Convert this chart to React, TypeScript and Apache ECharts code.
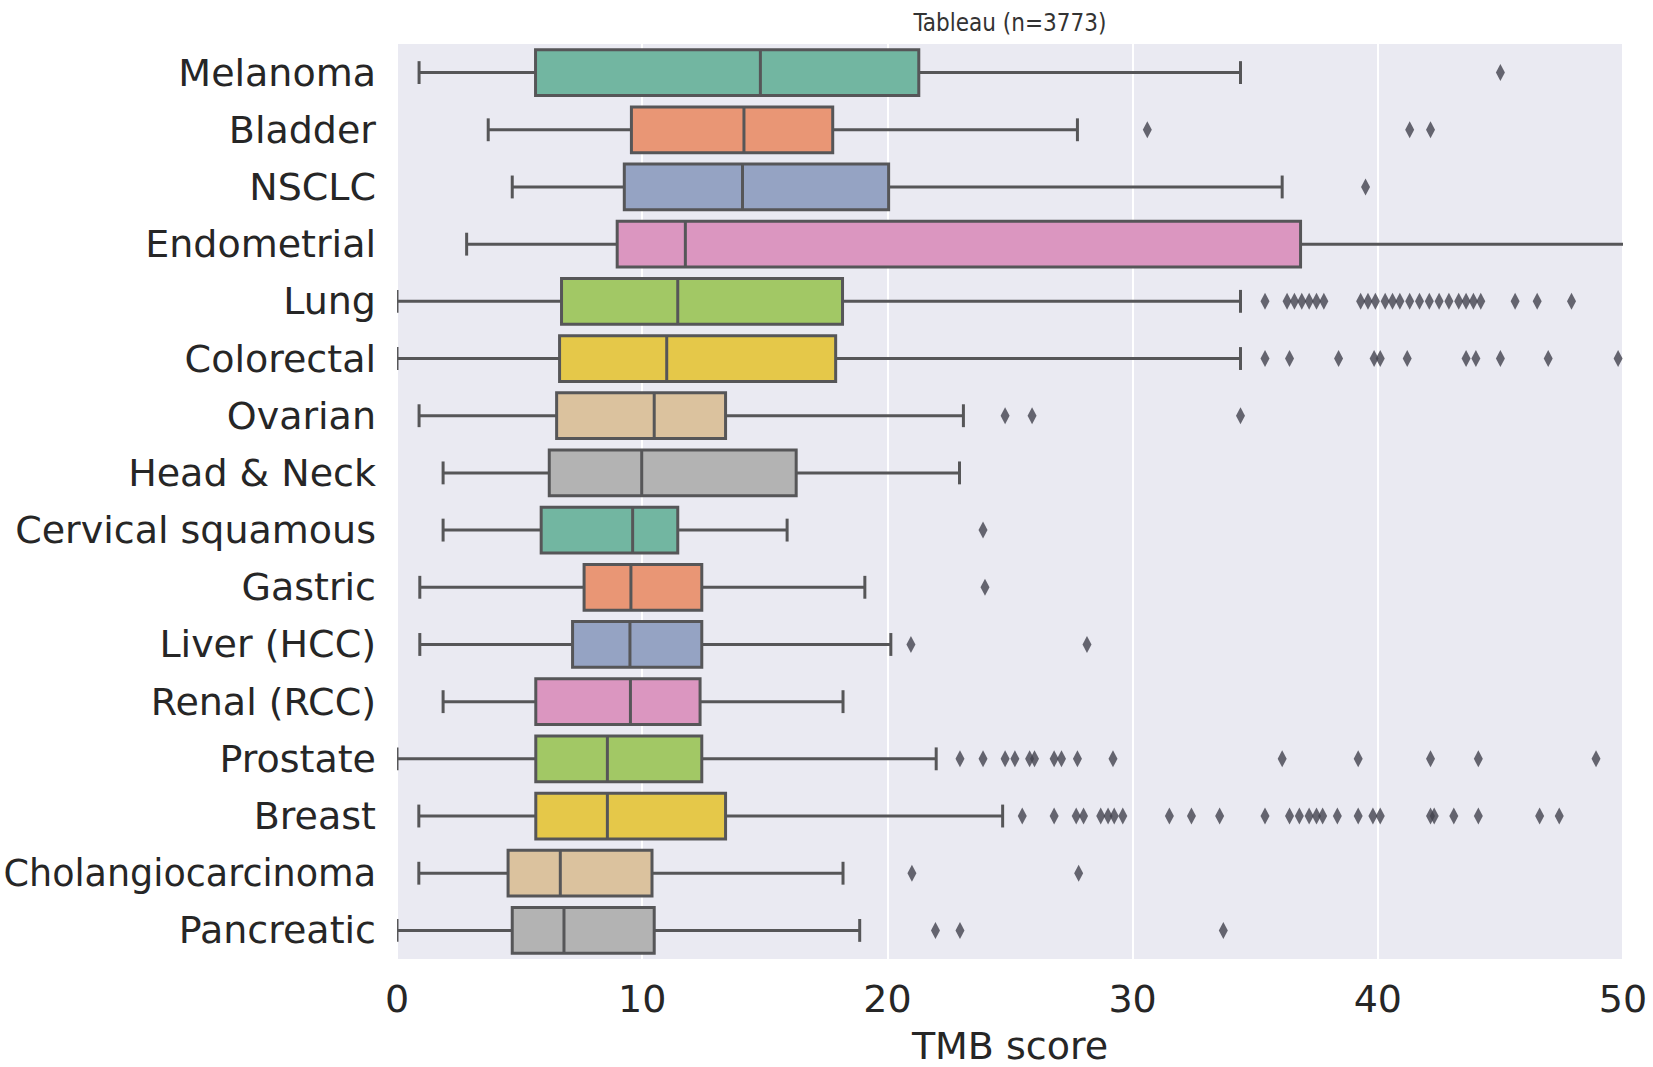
import React, { useEffect, useRef } from "react";
import * as echarts from "echarts";

const categories = [
  "Melanoma", "Bladder", "NSCLC", "Endometrial", "Lung", "Colorectal", "Ovarian", "Head & Neck",
  "Cervical squamous", "Gastric", "Liver (HCC)", "Renal (RCC)", "Prostate", "Breast",
  "Cholangiocarcinoma", "Pancreatic",
];

const whiskerLow = [0.9, 3.72, 4.7, 2.84, 0, 0, 0.9, 1.88, 1.88, 0.93, 0.93, 1.88, 0, 0.89, 0.89, 0];
const quartile1 = [5.65, 9.56, 9.27, 8.98, 6.71, 6.63, 6.51, 6.21, 5.88, 7.63, 7.16, 5.66, 5.66, 5.66, 4.53, 4.7];
const medians = [14.82, 14.15, 14.09, 11.76, 11.45, 11.0, 10.49, 9.98, 9.61, 9.54, 9.5, 9.52, 8.58, 8.58, 6.66, 6.81];
const quartile3 = [21.28, 17.77, 20.05, 36.85, 18.17, 17.89, 13.4, 16.28, 11.45, 12.43, 12.43, 12.36, 12.43, 13.4, 10.4, 10.49];
const whiskerHigh = [34.4, 27.75, 36.1, 52, 34.4, 34.4, 23.1, 22.94, 15.91, 19.08, 20.14, 18.19, 21.99, 24.7, 18.19, 18.87];

const outliers: number[][] = [
  [45.0],
  [30.6, 41.3, 42.15],
  [39.5],
  [],
  [35.4, 36.3, 36.6, 36.9, 37.2, 37.5, 37.8, 39.3, 39.6, 39.9, 40.3, 40.6, 40.9, 41.3, 41.7, 42.1, 42.5, 42.9, 43.3, 43.6, 43.9, 44.2, 45.6, 46.5, 47.9],
  [35.4, 36.4, 38.4, 39.85, 40.1, 41.2, 43.6, 44.0, 45.0, 46.95, 49.8],
  [24.8, 25.9, 34.4],
  [],
  [23.9],
  [23.98],
  [20.96, 28.14],
  [],
  [22.96, 23.9, 24.8, 25.2, 25.8, 26.0, 26.8, 27.1, 27.75, 29.2, 36.1, 39.2, 42.15, 44.1, 48.9],
  [25.5, 26.8, 27.7, 28.0, 28.7, 29.0, 29.25, 29.6, 31.5, 32.4, 33.55, 35.4, 36.4, 36.8, 37.2, 37.5, 37.75, 38.35, 39.2, 39.8, 40.1, 42.15, 42.3, 43.1, 44.1, 46.6, 47.4],
  [21.0, 27.8],
  [21.96, 22.96, 33.7],
];

const xTicks = [0, 10, 20, 30, 40, 50];

const palette = ["#72b6a1", "#e99675", "#95a3c3", "#db96c0", "#a2c865", "#e5c849", "#dbc29e", "#b3b3b3"];
const GRAY = "#565658";
const FONT = "DejaVu Sans";

export default function App() {
  const ref = useRef<HTMLDivElement>(null);
  useEffect(() => {
    document.body.style.margin = "0";
    const chart = echarts.init(ref.current!, undefined, { renderer: "svg" });
    const boxData = categories.map((_, i) => [i, whiskerLow[i], quartile1[i], medians[i], quartile3[i], whiskerHigh[i]]);
    const outlierData: number[][] = [];
    outliers.forEach((arr, i) => arr.forEach((v) => outlierData.push([v, i])));

    chart.setOption({
      animation: false,
      backgroundColor: "#ffffff",
      textStyle: { fontFamily: FONT },
      grid: {
        left: 397, right: 30, top: 44, bottom: 108,
        outerBoundsMode: "none",
        containLabel: false,
        show: true, backgroundColor: "#eaeaf2", borderWidth: 0,
      },
      graphic: [
        {
          type: "text", x: 1010, y: 23,
          style: {
            text: "Tableau (n=3773)", fontFamily: "DejaVu Sans Condensed, DejaVu Sans",
            fontSize: 24, fill: "#333333", textAlign: "center", textVerticalAlign: "middle",
          },
        },
      ],
      xAxis: {
        type: "value", min: xTicks[0], max: xTicks[xTicks.length - 1], interval: 10,
        name: "TMB score", nameLocation: "middle", nameGap: 68,
        nameTextStyle: { fontSize: 38, lineHeight: 38, color: "#262626", fontFamily: FONT },
        axisLine: { show: false }, axisTick: { show: false },
        axisLabel: { fontSize: 38, color: "#262626", margin: 21, fontFamily: FONT },
        splitLine: { show: true, lineStyle: { color: "#ffffff", width: 2 } },
      },
      yAxis: {
        type: "category", data: categories, inverse: true,
        axisLine: { show: false }, axisTick: { show: false },
        axisLabel: {
          fontSize: 38, color: "#262626", margin: 21, fontFamily: FONT,
          formatter: (v: string) => (v.length > 17 ? "{s|" + v + "}" : v),
          rich: { s: { fontSize: 36.5, color: "#262626", fontFamily: FONT } },
        },
        splitLine: { show: false },
      },
      series: [
        {
          type: "custom",
          clip: true,
          encode: { x: [1, 2, 3, 4, 5], y: 0 },
          data: boxData,
          renderItem: (params: any, api: any) => {
            const ci = api.value(0);
            const pLo = api.coord([api.value(1), ci]);
            const pA = api.coord([api.value(2), ci]);
            const pM = api.coord([api.value(3), ci]);
            const pB = api.coord([api.value(4), ci]);
            const pHi = api.coord([api.value(5), ci]);
            const band = api.size([0, 1])[1];
            const bh = band * 0.8;
            const ch = bh * 0.5;
            const y = pLo[1];
            const ls = { stroke: GRAY, lineWidth: 3 };
            return {
              type: "group",
              children: [
                { type: "line", shape: { x1: pLo[0], y1: y, x2: pA[0], y2: y }, style: ls },
                { type: "line", shape: { x1: pB[0], y1: y, x2: pHi[0], y2: y }, style: ls },
                { type: "line", shape: { x1: pLo[0], y1: y - ch / 2, x2: pLo[0], y2: y + ch / 2 }, style: ls },
                { type: "line", shape: { x1: pHi[0], y1: y - ch / 2, x2: pHi[0], y2: y + ch / 2 }, style: ls },
                {
                  type: "rect",
                  shape: { x: pA[0], y: y - bh / 2, width: pB[0] - pA[0], height: bh },
                  style: { fill: palette[ci % palette.length], stroke: GRAY, lineWidth: 3 },
                },
                { type: "line", shape: { x1: pM[0], y1: y - bh / 2, x2: pM[0], y2: y + bh / 2 }, style: ls },
              ],
            };
          },
          z: 2,
        },
        {
          type: "scatter",
          data: outlierData,
          symbol: "diamond",
          symbolSize: [9, 17],
          itemStyle: { color: "#42424d" },
          z: 3,
        },
      ],
    });
    return () => chart.dispose();
  }, []);
  return <div ref={ref} style={{ width: 1653, height: 1067 }} />;
}
